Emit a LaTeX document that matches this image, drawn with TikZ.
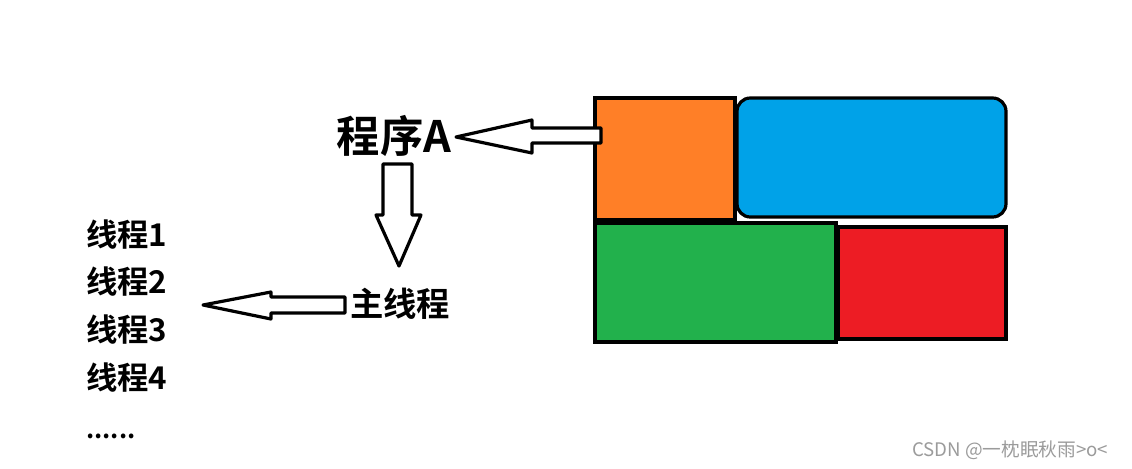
\documentclass[tikz,border=0pt]{standalone}
\usepackage{fontspec}
\setmainfont{Noto Sans CJK SC}
\newfontfamily\cjkb{Noto Sans CJK SC Bold}
\definecolor{porange}{HTML}{FF7F27}
\definecolor{pblue}{HTML}{00A2E8}
\definecolor{pgreen}{HTML}{22B14C}
\definecolor{pred}{HTML}{ED1C24}
\definecolor{wmark}{RGB}{155,155,155}
\begin{document}
\begin{tikzpicture}[x=0.75pt,y=-0.75pt,
  blk/.style={draw=black,line width=2.4pt},
  barrow/.style={draw=black,fill=white,line width=2.4pt,line join=round},
  lbl/.style={inner sep=0pt,font=\cjkb},
  thr/.style={inner sep=0pt,anchor=west,font=\cjkb\fontsize{23.5pt}{26pt}\selectfont}]
\useasboundingbox[fill=white] (0,0) rectangle (1132,468);
% blocks
\draw[blk,fill=porange] (595,98) rectangle (735,220);
\draw[blk,fill=pblue,rounded corners=10pt] (737,98) rectangle (1006,217);
\draw[blk,fill=pgreen] (595,223) rectangle (836,342);
\draw[blk,fill=pred] (838,227) rectangle (1006,339);
% labels
\node[lbl,font=\cjkb\fontsize{32.5pt}{36pt}\selectfont] (progA) at (394,136) {程序A};
\node[lbl,font=\cjkb\fontsize{25pt}{28pt}\selectfont] (mainT) at (400,304) {主线程};
\node[thr] (t1) at (86,235) {线程1};
\node[thr] (t2) at (86,282) {线程2};
\node[thr] (t3) at (86,330) {线程3};
\node[thr] (t4) at (86,378) {线程4};
\node[thr,anchor=base west,font=\cjkb\fontsize{19pt}{22pt}\selectfont] (tdots) at (86,438) {......};
\node[inner sep=0pt,anchor=west,text=wmark,font=\fontsize{14pt}{16pt}\selectfont] (wm) at (912,450) {CSDN @一枕眠秋雨>o<};
% block arrows
\draw[barrow] (456,137) -- (532,120) -- (532,128) -- (601,128) -- (601,143) -- (532,143) -- (532,153) -- cycle;
\draw[barrow] (399,266) -- (376,215) -- (383,215) -- (383,164) -- (412,164) -- (412,215) -- (421,215) -- cycle;
\draw[barrow] (203,305) -- (271,292) -- (271,297) -- (345,297) -- (345,313) -- (271,313) -- (271,319) -- cycle;
\end{tikzpicture}
\end{document}
